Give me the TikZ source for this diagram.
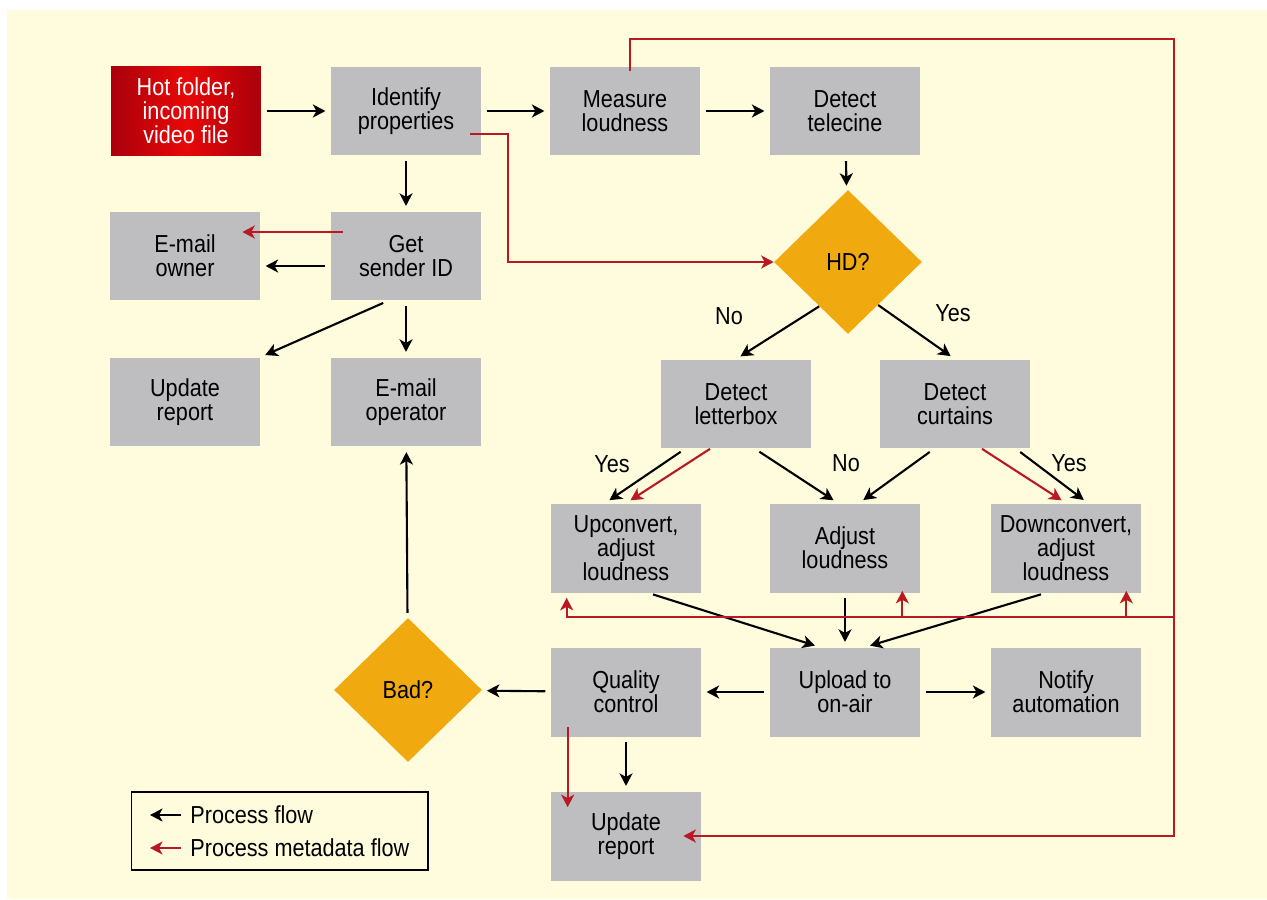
\documentclass[tikz,border=0pt]{standalone}
\usepackage{fontspec}
\setmainfont{Liberation Sans}[FakeStretch=0.88]
\usepackage{xcolor}
\usetikzlibrary{shapes.geometric,arrows.meta}

\definecolor{paper}{RGB}{255,252,222}
\definecolor{boxgray}{RGB}{190,190,192}
\definecolor{hdorange}{RGB}{240,170,15}
\definecolor{metared}{RGB}{185,25,35}
\definecolor{hotdark}{RGB}{170,0,12}
\definecolor{hotred}{RGB}{232,8,8}

\begin{document}
\begin{tikzpicture}[x=0.02cm, y=-0.02cm, >={Stealth[length=2.5mm,width=2.6mm,inset=0.7mm]},
  font=\fontsize{14}{13.7}\selectfont,
  box/.style={rectangle, fill=boxgray, minimum width=3cm, minimum height=1.78cm, align=center, inner sep=0pt},
  hotbox/.style={box, left color=hotdark, right color=hotdark, middle color=hotred, text=white},
  decision/.style={diamond, fill=hdorange, minimum width=2.96cm, minimum height=2.88cm, inner sep=0pt},
  flow/.style={->, line width=1.2pt, shorten >=3pt, shorten <=3pt},
  meta/.style={->, line width=1.2pt, metared},
  lbl/.style={inner sep=1pt}]
\useasboundingbox (0,0) rectangle (1267,899);
\fill[paper] (7,10) rectangle (1267,899);

% Nodes
\node[hotbox] (hot) at (186,111) {Hot folder,\\incoming\\video file};
\node[box] (ident) at (406,111) {Identify\\properties};
\node[box] (measure) at (625,111) {Measure\\loudness};
\node[box] (telecine) at (845,111) {Detect\\telecine};
\node[decision] (hd) at (848,262) {HD?};
\node[box] (owner) at (185,256) {E-mail\\owner};
\node[box] (sender) at (406,256) {Get\\sender ID};
\node[box] (report1) at (185,402) {Update\\report};
\node[box] (emailop) at (406,402) {E-mail\\operator};
\node[box] (letter) at (736,404) {Detect\\letterbox};
\node[box] (curtain) at (955,404) {Detect\\curtains};
\node[box] (upconv) at (626,548) {Upconvert,\\adjust\\loudness};
\node[box] (adjust) at (845,548) {Adjust\\loudness};
\node[box] (downconv) at (1066,548) {Downconvert,\\adjust\\loudness};
\node[box] (qc) at (626,692) {Quality\\control};
\node[box] (upload) at (845,692) {Upload to\\on-air};
\node[box] (notify) at (1066,692) {Notify\\automation};
\node[decision] (bad) at (408,690) {Bad?};
\node[box] (report2) at (626,836) {Update\\report};

% Branch labels
\node[lbl] (no1) at (729,316) {No};
\node[lbl] (yes1) at (953,313) {Yes};
\node[lbl] (yes2) at (612,464) {Yes};
\node[lbl] (no2) at (846,463) {No};
\node[lbl] (yes3) at (1069,463) {Yes};

% Process flow (black arrows)
\draw[flow] (hot) -- (ident);
\draw[flow] (ident) -- (measure);
\draw[flow] (measure) -- (telecine);
\draw[flow] (telecine) -- (hd);
\draw[flow] (ident) -- (sender);
\draw[flow] ([yshift=-0.2cm]sender.west) -- ([yshift=-0.2cm]owner.east);
\draw[flow] ([xshift=-0.36cm]sender.south) -- (report1.north east);
\draw[flow] (sender) -- (emailop);
\draw[flow] (bad) -- (emailop);
\draw[flow, shorten <=0pt] (hd.-123) -- (letter.north);
\draw[flow, shorten <=0pt] (hd.-55) -- (curtain.north);
\draw[flow] ([xshift=-1.02cm]letter.south) -- ([xshift=-0.42cm]upconv.north);
\draw[flow] ([xshift=0.38cm]letter.south) -- ([xshift=-0.14cm]adjust.north);
\draw[flow] ([xshift=-0.42cm]curtain.south) -- ([xshift=0.28cm]adjust.north);
\draw[flow] ([xshift=1.22cm]curtain.south) -- ([xshift=0.44cm]downconv.north);
\draw[flow] ([xshift=0.44cm]upconv.south) -- ([xshift=-0.5cm]upload.north);
\draw[flow] (adjust) -- (upload);
\draw[flow] ([xshift=-0.4cm]downconv.south) -- ([xshift=0.4cm]upload.north);
\draw[flow] (upload) -- (qc);
\draw[flow] (upload) -- (notify);
\draw[flow] (qc) -- (bad);
\draw[flow] (qc) -- (report2);

% Metadata flow (red arrows)
\coordinate (loopne) at (1174,39);
\coordinate (branch) at (1174,617);
\draw[meta] ([xshift=0.24cm,yshift=0.48cm]sender.west) -- ([xshift=-0.36cm,yshift=0.48cm]owner.east);
\draw[meta] ([xshift=-0.22cm,yshift=-0.46cm]ident.east) -- ++(38,0) |- (hd.west);
\draw[meta, shorten >=3pt] ([xshift=-0.52cm]letter.south) -- (upconv.north);
\draw[meta, shorten >=3pt] ([xshift=0.54cm]curtain.south) -- (downconv.north);
\draw[meta] ([xshift=0.34cm,yshift=0.2cm]qc.south west) -- ([xshift=0.34cm,yshift=-0.32cm]report2.north west);
\draw[meta] ([xshift=0.1cm,yshift=-0.1cm]measure.north) |- (loopne) |- ([xshift=-0.36cm]report2.east);
\draw[meta] (branch) -| ([xshift=0.32cm,yshift=-0.1cm]upconv.south west);
\draw[meta] ([xshift=-0.36cm]adjust.south east |- branch) -- ([xshift=-0.36cm,yshift=0.04cm]adjust.south east);
\draw[meta] ([xshift=-0.3cm]downconv.south east |- branch) -- ([xshift=-0.3cm,yshift=0.04cm]downconv.south east);

% Legend
\node[draw, line width=0.6pt, minimum width=5.94cm, minimum height=1.56cm, inner sep=0pt] (legend) at (279.5,831) {};
\coordinate (keya) at (181,815);
\coordinate (keyb) at (150,815);
\coordinate (keyc) at (181,848);
\coordinate (keyd) at (150,848);
\node[anchor=west, inner sep=0pt] (keyflow) at (190,815) {Process flow};
\node[anchor=west, inner sep=0pt] (keymeta) at (190,848) {Process metadata flow};
\draw[->, line width=1.2pt] (keya) -- (keyb);
\draw[meta] (keyc) -- (keyd);
\end{tikzpicture}
\end{document}
